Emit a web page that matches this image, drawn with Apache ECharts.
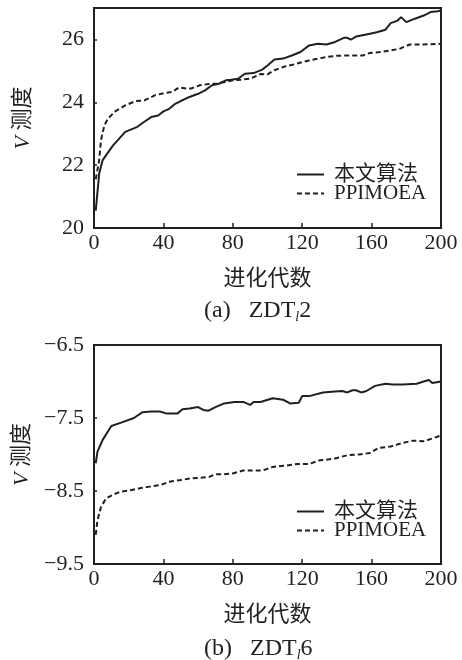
<!DOCTYPE html>
<html>
<head>
<meta charset="utf-8">
<script src="https://cdn.jsdelivr.net/npm/echarts@6/dist/echarts.min.js"></script>
<style>html,body{margin:0;padding:0;background:#fff}#c{width:462px;height:660px}</style>
</head>
<body>
<div id="c"></div>
<script>
// ---- data (a) ZDT_l2 ----
var xTicks = [0, 40, 80, 120, 160, 200];
var genA1 = [1,3,5,7,11,18,25,29,33,37,40,43,47,50,55,60,64,68,72,76,79,83,87,92,97,100,104,109,114,119,124,129,134,139,144,146,148,151,157,163,168,171,175,177,180,185,190,194,198,200];
var valA1 = [20.55,21.74,22.16,22.32,22.63,23.06,23.22,23.38,23.53,23.58,23.71,23.78,23.96,24.04,24.17,24.27,24.38,24.54,24.59,24.70,24.72,24.75,24.91,24.93,25.04,25.17,25.36,25.39,25.49,25.60,25.81,25.86,25.84,25.92,26.05,26.05,25.99,26.09,26.16,26.23,26.31,26.52,26.60,26.71,26.55,26.66,26.76,26.87,26.90,26.92];
var genA2 = [1,3,4,6,8,12,18,24,29,35,41,45,49,53,56,61,66,71,76,80,85,90,96,100,104,110,115,120,124,129,134,140,146,151,155,159,165,171,176,182,188,194,200];
var valA2 = [21.55,22.16,22.79,23.27,23.48,23.70,23.90,24.04,24.06,24.22,24.30,24.33,24.47,24.44,24.44,24.54,24.58,24.60,24.65,24.70,24.72,24.75,24.90,24.89,25.02,25.14,25.20,25.28,25.33,25.39,25.44,25.48,25.49,25.49,25.49,25.57,25.60,25.65,25.70,25.84,25.84,25.85,25.86];
// ---- data (b) ZDT_l6 ----
var genB1 = [1,2,5,10,16,23,28,33,38,42,48,51,55,60,63,66,70,75,81,86,90,92,96,103,109,113,118,120,124,132,137,143,146,149,151,154,157,162,168,172,178,186,190,193,195,200];
var valB1 = [-8.12,-7.96,-7.80,-7.61,-7.56,-7.50,-7.42,-7.41,-7.41,-7.44,-7.44,-7.38,-7.37,-7.35,-7.39,-7.40,-7.35,-7.30,-7.28,-7.28,-7.32,-7.28,-7.28,-7.23,-7.25,-7.30,-7.29,-7.20,-7.20,-7.15,-7.14,-7.13,-7.15,-7.12,-7.12,-7.15,-7.13,-7.06,-7.03,-7.04,-7.04,-7.03,-7.00,-6.98,-7.02,-7.00];
var genB2 = [1,2,4,7,11,15,21,27,32,38,44,50,55,61,66,70,75,80,86,92,97,103,111,117,124,130,138,146,153,159,164,171,178,184,190,200];
var valB2 = [-9.10,-8.90,-8.72,-8.60,-8.55,-8.51,-8.49,-8.46,-8.44,-8.42,-8.37,-8.35,-8.33,-8.32,-8.31,-8.27,-8.27,-8.26,-8.22,-8.22,-8.22,-8.17,-8.15,-8.13,-8.13,-8.08,-8.06,-8.01,-8.00,-7.98,-7.91,-7.89,-7.84,-7.81,-7.82,-7.74];
var seriesNames = ['本文算法', 'PPIMOEA'];
var xName = '进化代数';
var yName = '{i|V} 测度';
var captions = ['(a)   ZDT{s|l}2', '(b)   ZDT{s|l}6'];

function pairs(g, v) { return g.map(function (x, i) { return [x, v[i]]; }); }

var FONT = "'Liberation Serif', 'Noto Sans CJK SC', serif";
var INK = '#231f20';

function xAxisCfg(idx) {
  return {
    type: 'value', gridIndex: idx, min: 0, max: 200, interval: 40,
    axisLine: { show: false },
    axisTick: { show: true, inside: true, length: 5, lineStyle: { color: INK, width: 1.5 } },
    axisLabel: { margin: 4, color: INK, fontFamily: FONT, fontSize: 22 },
    splitLine: { show: false },
    name: xName, nameLocation: 'middle', nameGap: 40,
    nameTextStyle: { color: INK, fontFamily: FONT, fontSize: 22 }
  };
}
function yAxisCfg(idx, min, max, interval, fmt) {
  return {
    type: 'value', gridIndex: idx, min: min, max: max, interval: interval,
    axisLine: { show: false },
    axisTick: { show: true, inside: true, length: 3, lineStyle: { color: INK, width: 1.5 } },
    axisLabel: { margin: 10, color: INK, fontFamily: FONT, fontSize: 22, formatter: fmt, showMaxLabel: true },
    splitLine: { show: false },
    name: yName, nameLocation: 'middle', nameGap: 60, nameRotate: 90,
    nameTextStyle: { color: INK, fontFamily: FONT, fontSize: 22,
      rich: { i: { fontStyle: 'italic', fontFamily: FONT, fontSize: 22, color: INK } } }
  };
}
function lineSeries(name, data, xi, dashed) {
  return {
    type: 'line', name: name, xAxisIndex: xi, yAxisIndex: xi, data: data,
    showSymbol: false, symbol: 'none', smooth: false, animation: false,
    lineStyle: { color: INK, width: 2, type: dashed ? [5, 3] : 'solid' },
    itemStyle: { color: INK }
  };
}
function legendCfg(top) {
  return {
    data: seriesNames, orient: 'vertical', left: 291, top: top,
    itemWidth: 27, itemHeight: 10, itemGap: -2,
    itemStyle: { opacity: 0 },
    textStyle: { color: INK, fontFamily: FONT, fontSize: 21, lineHeight: 20, padding: [0, 0, 0, 5] },
    selectedMode: false
  };
}

var chart = echarts.init(document.getElementById('c'), null, { renderer: 'canvas' });
chart.setOption({
  backgroundColor: '#fff',
  animation: false,
  grid: [
    { left: 94, top: 8, width: 347, height: 220, show: true, borderColor: INK, borderWidth: 2, backgroundColor: 'transparent' },
    { left: 94, top: 345, width: 347, height: 219, show: true, borderColor: INK, borderWidth: 2, backgroundColor: 'transparent' }
  ],
  xAxis: [xAxisCfg(0), xAxisCfg(1)],
  yAxis: [
    yAxisCfg(0, 20, 27, 2, function (v) { return (v % 2 === 0) ? String(v) : ''; }),
    yAxisCfg(1, -9.5, -6.5, 1, function (v) { return v.toFixed(1).replace('-', '\u2212'); })
  ],
  legend: [legendCfg(159), legendCfg(496)],
  series: [
    lineSeries(seriesNames[0], pairs(genA1, valA1), 0, false),
    lineSeries(seriesNames[1], pairs(genA2, valA2), 0, true),
    lineSeries(seriesNames[0], pairs(genB1, valB1), 1, false),
    lineSeries(seriesNames[1], pairs(genB2, valB2), 1, true)
  ],
  graphic: [
    { type: 'text', left: 204, top: 299, style: { text: captions[0], fill: INK, font: '24px ' + FONT,
      rich: { s: { fontStyle: 'italic', fontSize: 14, fontFamily: FONT, fill: INK, padding: [13, 0, 0, 0] } } } },
    { type: 'text', left: 204, top: 637, style: { text: captions[1], fill: INK, font: '24px ' + FONT,
      rich: { s: { fontStyle: 'italic', fontSize: 14, fontFamily: FONT, fill: INK, padding: [13, 0, 0, 0] } } } }
  ]
});
</script>
</body>
</html>
